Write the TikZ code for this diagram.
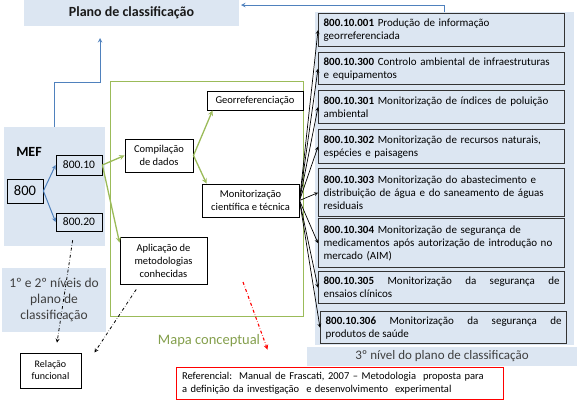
\documentclass[tikz,border=0pt]{standalone}
\usepackage{fontspec}
\setmainfont{Carlito}
\usetikzlibrary{arrows.meta}

\definecolor{lightfill}{HTML}{DCE6F2}
\definecolor{mefblue}{HTML}{4F81BD}
\definecolor{mapgreen}{HTML}{9BBB59}
\definecolor{textgrey}{HTML}{3F3F3F}

\tikzset{
  bgpanel/.style={fill=lightfill, draw=none, inner sep=0pt},
  codebox/.style={draw=black!80, line width=1.3pt, fill=lightfill, anchor=north west,
    minimum width=246, text width=236, inner xsep=5pt, inner ysep=3pt,
    align=left, font=\fontsize{11}{13}\selectfont},
  mapbox/.style={draw=black, line width=1pt, fill=white, align=center, inner sep=0pt,
    font=\fontsize{10.5}{13}\selectfont},
  codesmall/.style={draw=black, line width=0.8pt, fill=lightfill, inner sep=0pt},
  bluearrow/.style={->, mefblue, line width=1pt},
  greenarrow/.style={->, mapgreen, line width=1.3pt},
  blackarrow/.style={->, black, line width=0.7pt},
  linkarrow/.style={->, dash dot, line width=0.8pt},
}

\begin{document}
\begin{tikzpicture}[x=1pt, y=-1pt, >=stealth]
  \useasboundingbox (0,0) rectangle (577,405);

  % 1. fundos (plano, MEF, niveis)
  \node[bgpanel, minimum width=215, minimum height=26, font=\bfseries\fontsize{14}{16}\selectfont, text=black!90]
    (plano) at (131.5,13) {Plano de classificação};
  \node[bgpanel, minimum width=101, minimum height=119] (mefbg) at (54.5,186.5) {};
  \node[bgpanel, minimum width=104, minimum height=64, align=center, text=textgrey,
    font=\fontsize{13.5}{16}\selectfont] (niveis) at (54,300)
    {1º e 2º níveis do\\plano de\\classificação};
  \node[bgpanel, minimum width=259, minimum height=333] (panelbg) at (444.5,178.5) {};
  \node[bgpanel, minimum width=270, minimum height=19, text=textgrey,
    font=\fontsize{13}{15}\selectfont] (nivel3) at (442,356.5) {3º nível do plano de classificação};

  % 2. MEF
  \node[font=\bfseries\fontsize{14}{16}\selectfont] (mef) at (29,152) {MEF};
  \node[codesmall, minimum width=36, minimum height=24, font=\fontsize{14.5}{16}\selectfont] (n800) at (25,191) {800};
  \node[codesmall, minimum width=46, minimum height=20, font=\fontsize{11.5}{13}\selectfont] (n10) at (79,165) {800.10};
  \node[codesmall, minimum width=46, minimum height=18, font=\fontsize{11.5}{13}\selectfont] (n20) at (79,222) {800.20};

  % 3. mapa conceptual
  \node[draw=mapgreen, line width=0.9pt, minimum width=193, minimum height=235, inner sep=0pt] (mapa) at (206.5,198.5) {};
  \node[text=mapgreen!85!black, font=\fontsize{14.5}{16}\selectfont] (mapalabel) at (209,341) {Mapa conceptual};
  \node[mapbox, minimum width=68, minimum height=33] (comp) at (159,155.5) {Compilação\\de dados};
  \node[mapbox, minimum width=96, minimum height=19] (geo) at (255,100.5) {Georreferenciação};
  \node[mapbox, minimum width=97, minimum height=33] (mon) at (250.5,200.5) {Monitorização\\científica e técnica};
  \node[mapbox, minimum width=87, minimum height=47] (apl) at (163.5,260.5) {Aplicação de\\metodologias\\conhecidas};
  \node[mapbox, minimum width=61, minimum height=35, font=\fontsize{10}{12}\selectfont] (rel) at (50.5,370.5) {Relação\\funcional};

  % 4. 3o nivel
  \node[codebox, minimum height=33] (c001) at (318,13) {\textbf{800.10.001} Produção de informação\\georreferenciada};
  \node[codebox, minimum height=32] (c300) at (318,52) {\textbf{800.10.300} Controlo ambiental de infraestruturas\\e equipamentos};
  \node[codebox, minimum height=33] (c301) at (318,90) {\textbf{800.10.301} Monitorização de índices de poluição\\ambiental};
  \node[codebox, minimum height=34] (c302) at (318,129) {\textbf{800.10.302} Monitorização de recursos naturais,\\espécies e paisagens};
  \node[codebox, minimum height=48] (c303) at (318,168) {\textbf{800.10.303} Monitorização do abastecimento e\\distribuição de água e do saneamento de águas\\residuais};
  \node[codebox, minimum height=49] (c304) at (318,218) {\textbf{800.10.304} Monitorização de segurança de\\medicamentos após autorização de introdução no\\mercado (AIM)};
  \node[codebox, minimum height=32, align=justify] (c305) at (318,271) {\textbf{800.10.305} Monitorização da segurança de\linebreak ensaios clínicos};
  \node[codebox, minimum height=32, align=justify] (c306) at (320,311) {\textbf{800.10.306} Monitorização da segurança de\linebreak produtos de saúde};

  % 5. referencial
  \node[draw=red, line width=1pt, fill=white, minimum width=327, minimum height=32, text width=315,
    inner xsep=6pt, inner ysep=0pt, align=left, font=\fontsize{10.5}{12.5}\selectfont] (ref) at (339.5,383)
    {Referencial:\ \ Manual de Frascati, 2007 -- Metodologia\ \ proposta para\\a definição da investigação\ \ e desenvolvimento\ \ experimental};

  % 6. ligacoes
  \coordinate (planoin) at (100,38);
  \coordinate (planoright) at (241,5);
  \coordinate (redstart) at (243,282);
  \draw[bluearrow] (mefbg.north) -- ++(0,-44) -| (planoin);
  \draw[bluearrow] (panelbg.north) |- (planoright);
  \draw[bluearrow] (n800.east) -- (n10.west);
  \draw[bluearrow] (n800.east) -- (n20.west);

  \draw[greenarrow] (n10.east) -- (comp.west);
  \draw[greenarrow] (n10.east) -- ([yshift=-6pt]apl.north west);
  \draw[greenarrow] (comp.east) -- ([xshift=6pt]geo.south west);
  \draw[greenarrow] (comp.east) -- ([xshift=5pt]mon.north west);

  \foreach \c in {c001,c300,c301,c302,c303,c304,c305,c306}
    \draw[blackarrow] (mon.east) -- (\c.west);

  \draw[linkarrow, shorten <=9pt, shorten >=10pt] ([xshift=-5pt]n20.south) -- ([xshift=5pt]rel.north);
  \draw[linkarrow, shorten <=6pt] ([xshift=-24pt]apl.south) -- ([xshift=13pt]rel.north east);
  \draw[linkarrow, red, line width=1.1pt] (redstart) -- ([xshift=-72pt,yshift=17pt]ref.north);

\end{tikzpicture}
\end{document}
